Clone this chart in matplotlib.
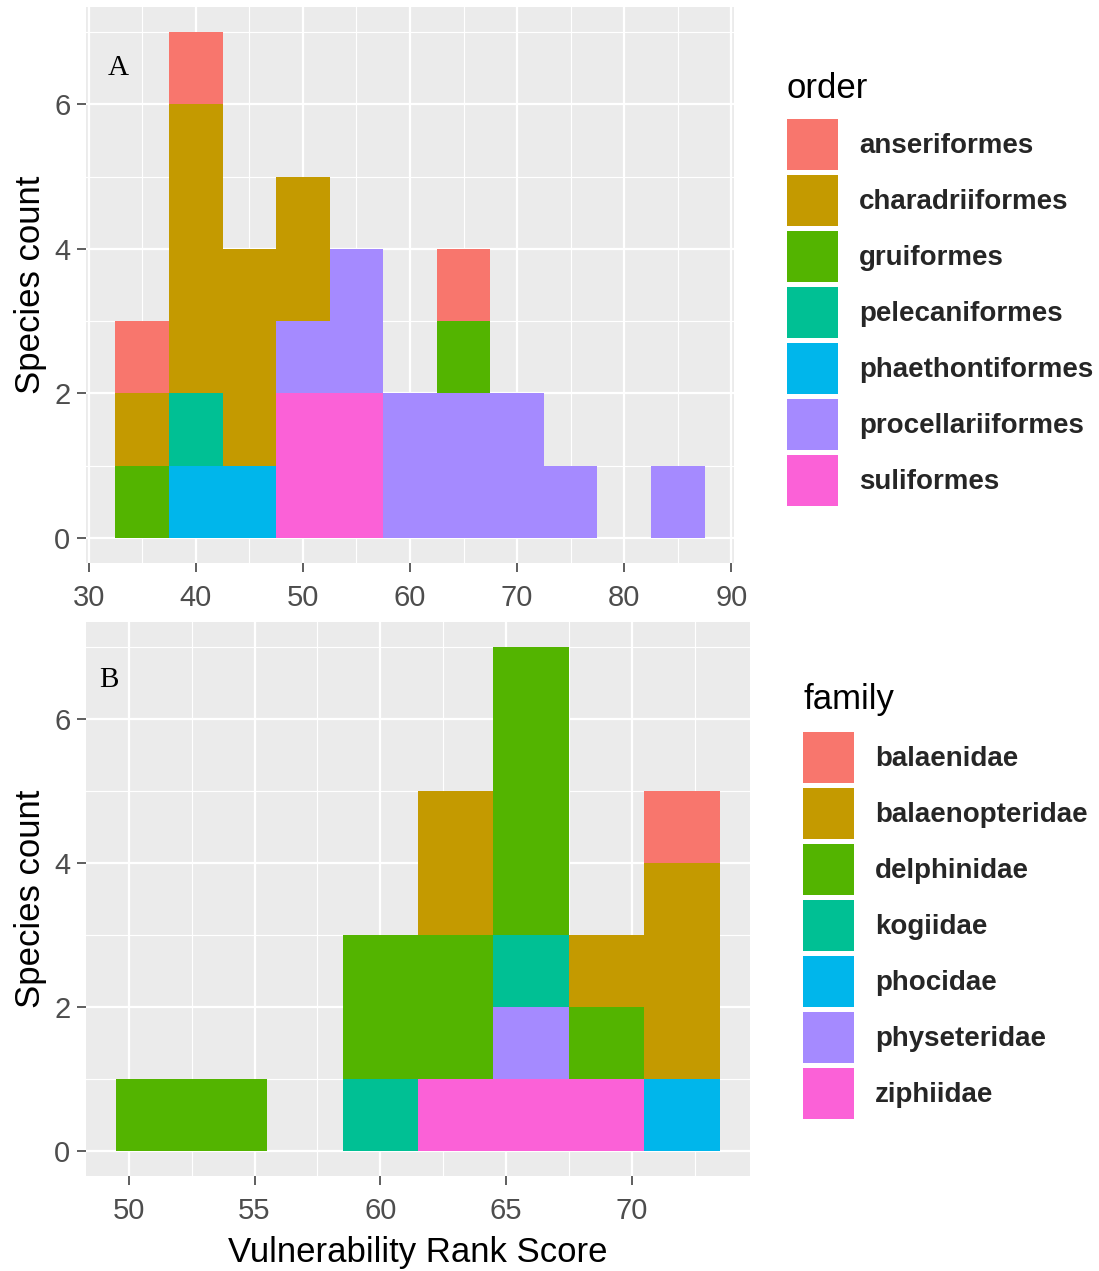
import matplotlib
matplotlib.use("Agg")
import matplotlib.pyplot as plt
from matplotlib.patches import Patch
import numpy as np

plt.rcParams['font.family'] = ['Liberation Sans', 'DejaVu Sans']

# panel A: birds, binned vulnerability score (bin width 5)
bins_a = [35, 40, 45, 50, 55, 60, 65, 70, 75, 80, 85]
orders = ['anseriformes', 'charadriiformes', 'gruiformes', 'pelecaniformes',
          'phaethontiformes', 'procellariiformes', 'suliformes']
counts_a = {
    'anseriformes':      [1, 1, 0, 0, 0, 0, 1, 0, 0, 0, 0],
    'charadriiformes':   [1, 4, 3, 2, 0, 0, 0, 0, 0, 0, 0],
    'gruiformes':        [1, 0, 0, 0, 0, 0, 1, 0, 0, 0, 0],
    'pelecaniformes':    [0, 1, 0, 0, 0, 0, 0, 0, 0, 0, 0],
    'phaethontiformes':  [0, 1, 1, 0, 0, 0, 0, 0, 0, 0, 0],
    'procellariiformes': [0, 0, 0, 1, 2, 2, 2, 2, 1, 0, 1],
    'suliformes':        [0, 0, 0, 2, 2, 0, 0, 0, 0, 0, 0],
}

# panel B: marine mammals (bin width 3)
bins_b = [51, 54, 57, 60, 63, 66, 69, 72]
families = ['balaenidae', 'balaenopteridae', 'delphinidae', 'kogiidae',
            'phocidae', 'physeteridae', 'ziphiidae']
counts_b = {
    'balaenidae':      [0, 0, 0, 0, 0, 0, 0, 1],
    'balaenopteridae': [0, 0, 0, 0, 2, 0, 1, 3],
    'delphinidae':     [1, 1, 0, 2, 2, 4, 1, 0],
    'kogiidae':        [0, 0, 0, 1, 0, 1, 0, 0],
    'phocidae':        [0, 0, 0, 0, 0, 0, 0, 1],
    'physeteridae':    [0, 0, 0, 0, 0, 1, 0, 0],
    'ziphiidae':       [0, 0, 0, 0, 1, 1, 1, 0],
}

hue = ['#F8766D', '#C49A00', '#53B400', '#00C094', '#00B6EB', '#A58AFF', '#FB61D7']

W, H = 1099, 1271
fig = plt.figure(figsize=(W / 100, H / 100), dpi=100)


def px_axes(l, t, r, b):
    return fig.add_axes([l / W, 1 - b / H, (r - l) / W, (b - t) / H])


def stacked_hist(ax, bins, levels, counts, width):
    bottom = np.zeros(len(bins))
    # ggplot stacks the first level on top, so draw from the last level up
    for lev, col in reversed(list(zip(levels, hue))):
        vals = np.array(counts[lev])
        ax.bar(bins, vals, width=width, bottom=bottom, color=col,
               linewidth=0, zorder=3)
        bottom += vals
    return bottom.max()


def style(ax, xmin, xmax, xmaj, xminor, ymax):
    ax.set_facecolor('#EBEBEB')
    for s in ax.spines.values():
        s.set_visible(False)
    ax.set_xlim(xmin, xmax)
    ax.set_ylim(-0.05 * ymax, ymax * 1.05)
    ax.set_xticks(xmaj)
    ax.set_xticks(xminor, minor=True)
    ax.set_yticks([0, 2, 4, 6])
    ax.set_yticks([1, 3, 5, 7], minor=True)
    ax.grid(which='major', color='white', linewidth=1.6, zorder=0)
    ax.grid(which='minor', color='white', linewidth=0.8, zorder=0)
    ax.set_axisbelow(True)
    ax.tick_params(which='major', length=6.3, width=1.1, color='#333333',
                   labelsize=21, labelcolor='#4D4D4D', pad=5)
    ax.tick_params(axis='x', which='major', pad=8.5)
    ax.tick_params(which='minor', length=0)
    ax.set_ylabel('Species count', fontsize=25, labelpad=5)


# panel A
axa = px_axes(86, 7, 734, 563)
top_a = stacked_hist(axa, bins_a, orders, counts_a, 5)
style(axa, 29.75, 90.25, [30, 40, 50, 60, 70, 80, 90],
      [35, 45, 55, 65, 75, 85], top_a)
axa.text(32.8, 6.5, 'A', family='Liberation Serif', fontsize=21,
         ha='center', va='center', zorder=4)

# panel B
axb = px_axes(86, 622, 750, 1176)
top_b = stacked_hist(axb, bins_b, families, counts_b, 3)
style(axb, 48.3, 74.7, [50, 55, 60, 65, 70], [52.5, 57.5, 62.5, 67.5, 72.5], top_b)
axb.set_xlabel('Vulnerability Rank Score', fontsize=25, labelpad=8)
axb.text(49.2, 6.55, 'B', family='Liberation Serif', fontsize=21,
         ha='center', va='center', zorder=4)


def add_legend(title, levels, x, ytitle, ykeys):
    fig.text(x / W, 1 - ytitle / H, title, fontsize=25, ha='left', va='center')
    handles = [Patch(facecolor=c, edgecolor='none') for c in hue]
    leg = fig.legend(handles, levels, loc='upper left',
                     bbox_to_anchor=(x / W, 1 - ykeys / H), frameon=False,
                     prop={'size': 20, 'weight': 'bold'},
                     handlelength=1.85, handleheight=2.45, labelspacing=0.18,
                     handletextpad=0.75, borderpad=0, borderaxespad=0)
    for t in leg.get_texts():
        t.set_color('#262626')
    return leg


add_legend('order', orders, 787, 88, 119)
add_legend('family', families, 803, 700, 732)

fig.savefig('out.png', dpi=100)
